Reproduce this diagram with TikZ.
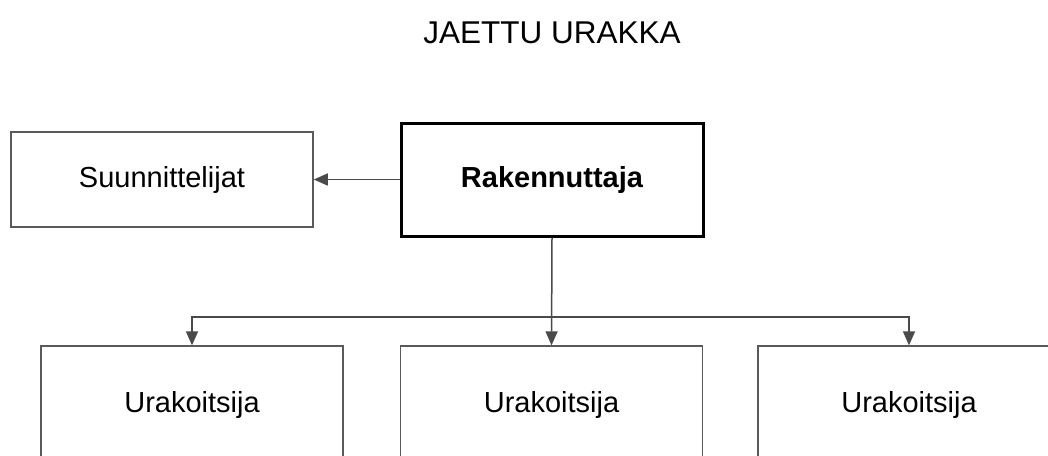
\documentclass[tikz,border=0pt]{standalone}
\usepackage{fontspec}
\setmainfont{Liberation Sans}
\usetikzlibrary{arrows.meta}
\definecolor{linegray}{HTML}{4A4A4A}
\definecolor{boxgray}{HTML}{5A5A5A}
\tikzset{
  box/.style={draw=boxgray, line width=1.5pt, rectangle, minimum width=302pt,
    inner sep=0pt, font=\fontsize{29}{34}\selectfont, text height=20.8pt, text depth=5.8pt},
  mainbox/.style={box, draw=black, line width=3pt, font=\fontsize{29}{34}\selectfont\bfseries},
  conn/.style={draw=linegray, line width=1.5pt, -{Triangle[length=14pt,width=12pt]}}
}
\begin{document}
\begin{tikzpicture}[x=1pt,y=-1pt]
\useasboundingbox (0,0) rectangle (1048,455);
\clip (0,0) rectangle (1048,455);
\fill[white] (0,0) rectangle (1048,455);
\node[anchor=base, font=\fontsize{31.5}{36}\selectfont] (title) at (552,43) {JAETTU URAKKA};
\node[box, minimum height=95pt] (S) at (162,179.5) {Suunnittelijat};
\node[mainbox, minimum height=113pt] (R) at (552,179.5) {Rakennuttaja};
\node[box, minimum height=117pt] (U1) at (192,404.6) {Urakoitsija};
\node[box, minimum height=117pt] (U2) at (551.5,404.6) {Urakoitsija};
\node[box, minimum height=117pt] (U3) at (909,404.6) {Urakoitsija};
\coordinate (bus) at (552,317);
\draw[conn] (R.west) -- (S.east);
\draw[conn] (R.south) -- (U2.north);
\draw[conn] (bus) -| (U1.north);
\draw[conn] (bus) -| (U3.north);
\end{tikzpicture}
\end{document}
